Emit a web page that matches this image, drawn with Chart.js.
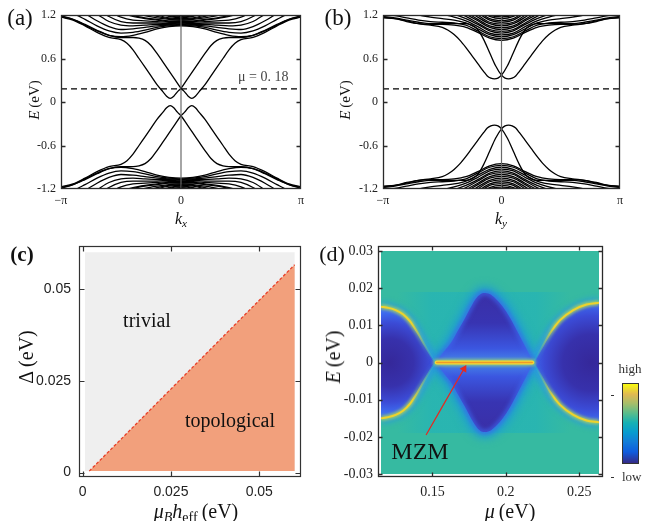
<!DOCTYPE html>
<html>
<head>
<meta charset="utf-8">
<script src="https://cdn.jsdelivr.net/npm/chart.js@4.4.1/dist/chart.umd.min.js"></script>
<style>
  body { margin: 0; width: 650px; height: 521px; background: #fff; position: relative; overflow: hidden; font-family: "Liberation Serif", serif; color: #111; }
  .box { position: absolute; }
  .lbl { position: absolute; white-space: nowrap; line-height: 1; }
  .c { transform: translate(-50%, -50%); }
  .v { transform: translate(-50%, -50%) rotate(-90deg); }
  sub { font-size: 70%; vertical-align: -0.3em; line-height: 0; }
  .cbar { position: absolute; left: 622px; top: 383px; width: 15px; height: 79px; border: 1px solid #333;
    background: linear-gradient(to top, #352a87 0%, #0f5cdd 14%, #127dd8 27%, #079ccf 39%, #15b1b4 51%, #59bd8c 63%, #a5be6b 75%, #e1b952 87%, #f9fb0e 100%); }
  .dash { position: absolute; width: 3px; height: 1px; background: #333; }
</style>
</head>
<body>
<div class="box" style="left:0;top:0;width:320px;height:230px"><canvas id="chartA"></canvas></div>
<div class="box" style="left:320px;top:0;width:330px;height:230px"><canvas id="chartB"></canvas></div>
<div class="box" style="left:0;top:230px;width:320px;height:291px"><canvas id="chartC"></canvas></div>
<div class="box" style="left:320px;top:230px;width:330px;height:291px"><canvas id="chartD"></canvas></div>

<div class="lbl c" style="left:20px;top:17px;font-size:23px">(a)</div>
<div class="lbl c" style="left:338px;top:17px;font-size:23px">(b)</div>
<div class="lbl c" style="left:22px;top:254px;font-size:21px;font-weight:bold">(c)</div>
<div class="lbl c" style="left:332px;top:254px;font-size:22px">(d)</div>

<div class="lbl v" style="left:34px;top:100px;font-size:15px"><i>E</i>&thinsp;(eV)</div>
<div class="lbl c" style="left:181px;top:219px;font-size:16px"><i>k</i><sub><i>x</i></sub></div>
<div class="lbl v" style="left:345px;top:100px;font-size:15px"><i>E</i>&thinsp;(eV)</div>
<div class="lbl c" style="left:501px;top:219px;font-size:16px"><i>k</i><sub><i>y</i></sub></div>
<div class="lbl" style="left:238px;top:70px;font-size:14px;color:#444">μ = 0. 18</div>

<div class="lbl v" style="left:26px;top:357px;font-size:20px">Δ&thinsp;(eV)</div>
<div class="lbl c" style="left:196px;top:511px;font-size:20px"><i>μ</i><sub><i>B</i></sub><i>h</i><sub>eff</sub>&thinsp;(eV)</div>
<div class="lbl c" style="left:147px;top:320px;font-size:20px">trivial</div>
<div class="lbl c" style="left:230px;top:420px;font-size:20px">topological</div>

<div class="lbl v" style="left:333px;top:357px;font-size:20px"><i>E</i>&thinsp;(eV)</div>
<div class="lbl c" style="left:510px;top:511px;font-size:20px"><i>μ</i>&thinsp;(eV)</div>
<div class="lbl c" style="left:420px;top:451px;font-size:24px">MZM</div>
<div class="cbar"></div>
<div class="lbl c" style="left:630px;top:368px;font-size:13px;color:#333">high</div>
<div class="lbl" style="left:622px;top:470px;font-size:13px;color:#333">low</div>
<div class="dash" style="left:611px;top:395px"></div>
<div class="dash" style="left:611px;top:477px"></div>

<script>
// ---------- (a), (b): ribbon spectra, k in units of pi, E in eV ----------
const kHalf = [0, 0.1, 0.2, 0.3, 0.4, 0.5, 0.6, 0.7, 0.8, 0.9, 1.0];

// upper bulk subbands of (a) on kHalf (mirrored to k<0, lower ones are -E)
const bulkA = [
  [1.05, 1.04, 1.01, 0.96, 0.92, 0.90, 0.92, 0.98, 1.06, 1.14, 1.19],
  [1.06, 1.05, 1.03, 0.99, 0.96, 0.95, 0.98, 1.05, 1.14, 1.22, 1.26],
  [1.07, 1.06, 1.05, 1.03, 1.01, 1.00, 1.04, 1.12, 1.22, 1.30],
  [1.08, 1.07, 1.07, 1.06, 1.05, 1.06, 1.11, 1.21, 1.31],
  [1.09, 1.08, 1.09, 1.09, 1.09, 1.11, 1.18, 1.29],
  [1.10, 1.10, 1.11, 1.12, 1.13, 1.17, 1.25],
  [1.11, 1.11, 1.13, 1.15, 1.18, 1.23],
  [1.12, 1.12, 1.14, 1.16, 1.19, 1.24],
  [1.13, 1.14, 1.16, 1.19, 1.24],
  [1.14, 1.15, 1.18, 1.23],
  [1.15, 1.16, 1.20, 1.26],
  [1.16, 1.18, 1.23],
  [1.17, 1.19, 1.26],
  [1.18, 1.21],
  [1.19, 1.23]
];

// upper bulk subbands of (b)
const bulkB = [
  [0.85, 0.88, 0.96, 1.03, 1.06, 1.07, 1.07, 1.08, 1.11, 1.15, 1.17],
  [0.875, 0.90, 0.98, 1.06, 1.09, 1.10, 1.11, 1.13, 1.16, 1.19, 1.20],
  [0.90, 0.93, 1.01, 1.09, 1.13, 1.15, 1.17, 1.20, 1.23, 1.26],
  [0.925, 0.95, 1.04, 1.12, 1.17, 1.21, 1.25],
  [0.95, 0.98, 1.07, 1.15, 1.21, 1.27],
  [0.975, 1.00, 1.09, 1.18, 1.25],
  [1.00, 1.03, 1.12, 1.21, 1.30],
  [1.025, 1.05, 1.14, 1.24],
  [1.05, 1.08, 1.17, 1.28],
  [1.075, 1.10, 1.20, 1.32],
  [1.10, 1.13, 1.23],
  [1.125, 1.15, 1.26],
  [1.15, 1.18, 1.29],
  [1.175, 1.20, 1.32]
];

// in-gap branch with its minimum left of k = 0 (partner is its mirror image)
const kEdge = [-1, -0.9, -0.8, -0.7, -0.6, -0.5, -0.45, -0.4, -0.35, -0.3, -0.25, -0.2, -0.15, -0.12,
  -0.09, -0.06, -0.03, 0, 0.05, 0.1, 0.15, 0.2, 0.25, 0.3, 0.35, 0.4, 0.5, 0.6, 0.7, 0.8, 0.9, 1];
const edgeA = [1.17, 1.13, 1.05, 0.96, 0.89, 0.86, 0.81, 0.72, 0.60, 0.48, 0.36, 0.24, 0.14, 0.08,
  0.05, 0.08, 0.14, 0.19, 0.31, 0.43, 0.55, 0.67, 0.78, 0.85, 0.88, 0.89, 0.89, 0.92, 0.99, 1.07, 1.14, 1.18];
const edgeB = [1.16, 1.15, 1.12, 1.08, 1.06, 1.03, 0.99, 0.93, 0.85, 0.75, 0.64, 0.53, 0.42, 0.36,
  0.33, 0.32, 0.33, 0.37, 0.50, 0.68, 0.86, 1.00, 1.06, 1.08, 1.08, 1.08, 1.08, 1.08, 1.10, 1.13, 1.16, 1.18];

const muFermi = 0.18;
const kCenter = 0;
const kTicks = [-1, 0, 1];
const kTickText = ['\u2212\u03c0', '0', '\u03c0'];
const eTicks = [-1.2, -0.6, 0, 0.6, 1.2];

// ---------- (c): phase diagram ----------
const phaseX = [0.0007, 0.06];
const phaseY = [0.0004, 0.06];
const boundX = [0.0019, 0.06];
const boundY = [0.0004, 0.0566];
const cTicks = [0, 0.025, 0.05];
const cTickText = ['0', '0.025', '0.05'];

// ---------- (d): spectral map ----------
const mapMu = [0.115, 0.2635];
const mapE = [-0.03, 0.03];
const plateauMu = [0.126, 0.244];
const plateauE = 0.019;
const lobeLMu = [0.115, 0.120, 0.125, 0.130, 0.135, 0.140, 0.145, 0.150, 0.152];
const lobeLE = [0.0150, 0.0147, 0.0141, 0.0130, 0.0110, 0.0080, 0.0045, 0.0012, 0];
const lobeRMu = [0.219, 0.221, 0.2255, 0.230, 0.237, 0.246, 0.255, 0.2635];
const lobeRE = [0, 0.0015, 0.0047, 0.0078, 0.0114, 0.0141, 0.0156, 0.0161];
const lensMu = [0.152, 0.158, 0.163, 0.168, 0.172, 0.177, 0.181, 0.185, 0.189, 0.193, 0.198, 0.203, 0.208, 0.213, 0.219];
const lensE = [0, 0.0030, 0.0055, 0.0090, 0.0118, 0.0155, 0.0178, 0.0187, 0.0184, 0.0172, 0.0150, 0.0120, 0.0083, 0.0045, 0];
const mzmMu = [0.153, 0.218];
const mzmE = [0, 0];
const arrowMu = [0.1457, 0.1716];
const arrowE = [-0.0195, -0.0017];
const dTicksX = [0.15, 0.2, 0.25];
const dTicksY = [-0.03, -0.02, -0.01, 0, 0.01, 0.02, 0.03];

// ---------- helpers ----------
const pts = (xs, ys) => xs.map((x, i) => ({ x: x, y: ys[i] }));
const neg = arr => arr.map(v => -v);

function fullBand(vals, sign) {
  const out = [];
  for (let i = vals.length - 1; i > 0; i--) out.push({ x: -kHalf[i], y: sign * vals[i] });
  for (let i = 0; i < vals.length; i++) out.push({ x: kHalf[i], y: sign * vals[i] });
  return out;
}

function edgeCurve(vals, flipK, flipE) {
  const out = kEdge.map((k, i) => ({ x: flipK ? -k : k, y: flipE ? -vals[i] : vals[i] }));
  return flipK ? out.reverse() : out;
}

const framePlugin = {
  id: 'frame',
  afterDatasetsDraw(chart, args, opts) {
    const { ctx, chartArea: a, scales } = chart;
    const p = opts.pad || [0, 0, 0, 0];
    const L = Math.round(a.left - p[0]) + 0.5, T = Math.round(a.top - p[1]) + 0.5;
    const R = Math.round(a.right + p[2]) - 0.5, B = Math.round(a.bottom + p[3]) - 0.5;
    const len = opts.tick || 4;
    ctx.save();
    ctx.strokeStyle = opts.color || '#262626';
    ctx.lineWidth = opts.width || 1;
    ctx.strokeRect(L, T, R - L, B - T);
    ctx.beginPath();
    scales.x.ticks.forEach(t => {
      const x = Math.round(scales.x.getPixelForValue(t.value)) + 0.5;
      if (x - L < 2 || R - x < 2) return;
      ctx.moveTo(x, B); ctx.lineTo(x, B - len);
      ctx.moveTo(x, T); ctx.lineTo(x, T + len);
    });
    scales.y.ticks.forEach(t => {
      const y = Math.round(scales.y.getPixelForValue(t.value)) + 0.5;
      if (y - T < 2 || B - y < 2) return;
      ctx.moveTo(L, y); ctx.lineTo(L + len, y);
      ctx.moveTo(R, y); ctx.lineTo(R - len, y);
    });
    ctx.stroke();
    ctx.restore();
  }
};

const blurPlugin = {
  id: 'blur',
  beforeDatasetDraw(chart, args) {
    const b = chart.data.datasets[args.index].blur;
    if (b) chart.ctx.filter = 'blur(' + b + 'px)';
  },
  afterDatasetDraw(chart) { chart.ctx.filter = 'none'; }
};

function axis(o) {
  return {
    type: 'linear', min: o.min, max: o.max,
    afterBuildTicks: s => { s.ticks = o.ticks.map(value => ({ value })); },
    afterFit: s => { if (o.w) s.width = o.w; if (o.h) s.height = o.h; },
    ticks: {
      callback: v => o.text ? o.text[o.ticks.indexOf(v)] : String(v),
      font: o.font, color: '#222', padding: o.pad, maxRotation: 0, autoSkip: false
    },
    grid: { display: false, drawTicks: false },
    border: { display: false }
  };
}

function baseOptions(padding, scales, frame) {
  return {
    responsive: true, maintainAspectRatio: false, animation: false, events: [],
    layout: { padding },
    scales,
    plugins: { legend: { display: false }, tooltip: { enabled: false }, frame }
  };
}

const serif12 = { family: 'Liberation Serif', size: 12 };
const serif14 = { family: 'Liberation Serif', size: 14 };
const sans14 = { family: 'Liberation Sans', size: 14 };

// ---------- (a), (b) ----------
function bandChart(id, bulk, edge, yw, rightPad) {
  const line = (data, extra) => Object.assign({
    data, borderColor: '#000', borderWidth: 1.3, pointRadius: 0, fill: false, cubicInterpolationMode: 'monotone'
  }, extra);
  const ds = [];
  ds.push(line([{ x: -1, y: muFermi }, { x: 1, y: muFermi }], { borderDash: [6, 4], borderWidth: 1.2 }));
  ds.push(line([{ x: kCenter, y: eTicks[0] }, { x: kCenter, y: eTicks[eTicks.length - 1] }], { borderColor: '#6a6a6a', borderWidth: 1.2 }));
  [[false, false], [true, false], [false, true], [true, true]].forEach(f => ds.push(line(edgeCurve(edge, f[0], f[1]))));
  bulk.forEach(v => { ds.push(line(fullBand(v, 1))); ds.push(line(fullBand(v, -1))); });

  new Chart(document.getElementById(id), {
    type: 'line',
    data: { datasets: ds },
    options: baseOptions({ left: 0, right: rightPad, top: 15, bottom: 0 }, {
      x: axis({ min: -1, max: 1, ticks: kTicks, text: kTickText, font: serif12, pad: 5, h: 41 }),
      y: axis({ min: -1.2, max: 1.2, ticks: eTicks, font: serif12, pad: 5, w: yw })
    }, { pad: [0, 0, 0, 0], width: 1.3, color: '#2a2a2a', tick: 4 }),
    plugins: [framePlugin]
  });
}

bandChart('chartA', bulkA, edgeA, 61, 19);
bandChart('chartB', bulkB, edgeB, 63, 30);

// ---------- (c) ----------
(function () {
  const clear = 'rgba(0,0,0,0)';
  const ds = [
    { data: pts(boundX, boundY), borderColor: '#e8402a', borderWidth: 1.3, borderDash: [3, 2], pointRadius: 0, fill: false },
    { data: pts([boundX[0], boundX[1], boundX[1]], [boundY[0], boundY[1], phaseY[0]]), borderColor: clear, pointRadius: 0, fill: 'shape', backgroundColor: '#f2a07c' },
    { data: pts([phaseX[0], phaseX[0], phaseX[1], phaseX[1]], [phaseY[0], phaseY[1], phaseY[1], phaseY[0]]), borderColor: clear, pointRadius: 0, fill: 'shape', backgroundColor: '#efefef' }
  ];
  new Chart(document.getElementById('chartC'), {
    type: 'line',
    data: { datasets: ds },
    options: baseOptions({ left: 0, right: 19, top: 15, bottom: 0 }, {
      x: axis({ min: -0.001, max: 0.0618, ticks: cTicks, text: cTickText, font: sans14, pad: 7, h: 44 }),
      y: axis({ min: -0.0012, max: 0.0616, ticks: cTicks, text: cTickText, font: sans14, pad: 8, w: 79 })
    }, { pad: [0, 0, 0, 0], width: 1.2, color: '#333', tick: 5 }),
    plugins: [framePlugin]
  });
})();

// ---------- (d) ----------
(function () {
  const list = [];
  const clear = 'rgba(0,0,0,0)';
  const add = d => {
    list.push(Object.assign({ pointRadius: 0, fill: false, borderColor: clear, borderWidth: 1, cubicInterpolationMode: 'monotone' }, d));
  };
  const region = (xs, up, low, bg) => {
    add({ data: pts(xs, up), fill: list.length + 1, backgroundColor: bg });
    add({ data: pts(xs, low) });
  };

  const radial = (mu0, muEdge, stops, fb) => c => {
    const ch = c.chart;
    if (!ch.chartArea) return fb;
    const x = ch.scales.x, y = ch.scales.y;
    const cx = x.getPixelForValue(mu0), cy = y.getPixelForValue(0);
    const r = Math.abs(x.getPixelForValue(muEdge) - cx);
    const g = ch.ctx.createRadialGradient(cx, cy, 0, cx, cy, r);
    stops.forEach(s => g.addColorStop(s[0], s[1]));
    return g;
  };
  const vGrad = (e0, e1, stops, fb) => c => {
    const ch = c.chart;
    if (!ch.chartArea) return fb;
    const y = ch.scales.y;
    const g = ch.ctx.createLinearGradient(0, y.getPixelForValue(e0), 0, y.getPixelForValue(e1));
    stops.forEach(s => g.addColorStop(s[0], s[1]));
    return g;
  };
  const hStops = (m0, m1, stops, fb) => c => {
    const ch = c.chart;
    if (!ch.chartArea) return fb;
    const x = ch.scales.x;
    const g = ch.ctx.createLinearGradient(x.getPixelForValue(m0), 0, x.getPixelForValue(m1), 0);
    stops.forEach(s => g.addColorStop(s[0], s[1]));
    return g;
  };
  const hGrad = (m0, m1, c0, c1) => hStops(m0, m1, [[0, c0], [1, c1]], c0);

  const lobeStops = [[0, '#35289a'], [0.45, '#3731ac'], [0.75, '#3b4bd6'], [0.95, '#3d6cf0'], [1, '#3d72f0']];
  const lensStops = [[0, '#3a2fa6'], [0.22, '#3834b2'], [0.4, '#3b56e0'], [0.5, '#4688e8'], [0.6, '#3b56e0'], [0.78, '#3834b2'], [1, '#3a2fa6']];
  const plateauStops = [[0, 'rgba(22,174,200,0)'], [0.2, 'rgba(22,174,200,0.4)'], [0.8, 'rgba(22,174,200,0.4)'], [1, 'rgba(22,174,200,0)']];

  // back to front
  region(mapMu, [mapE[1], mapE[1]], [mapE[0], mapE[0]], '#36baa1');
  region(plateauMu, [plateauE, plateauE], [-plateauE, -plateauE], hStops(plateauMu[0], plateauMu[1], plateauStops, 'rgba(22,174,200,0.35)'));

  add({ data: pts(lensMu, lensE), borderColor: '#1e9ad8', borderWidth: 12, blur: 5 });
  add({ data: pts(lensMu, neg(lensE)), borderColor: '#1e9ad8', borderWidth: 12, blur: 5 });
  [[lobeLMu, lobeLE], [lobeRMu, lobeRE]].forEach(l => {
    add({ data: pts(l[0], l[1]), borderColor: '#2a9ade', borderWidth: 9, blur: 3 });
    add({ data: pts(l[0], neg(l[1])), borderColor: '#2a9ade', borderWidth: 9, blur: 3 });
  });

  region(lobeLMu, lobeLE, neg(lobeLE), radial(0.121, 0.157, lobeStops, '#3731ac'));
  region(lobeRMu, lobeRE, neg(lobeRE), radial(0.258, 0.2155, lobeStops, '#3731ac'));
  region(lensMu, lensE, neg(lensE), vGrad(0.019, -0.019, lensStops, '#3834b2'));

  add({ data: pts(lensMu, lensE), borderColor: 'rgba(60,100,235,0.85)', borderWidth: 4, blur: 2 });
  add({ data: pts(lensMu, neg(lensE)), borderColor: 'rgba(60,100,235,0.85)', borderWidth: 4, blur: 2 });

  const edges = [[lobeLMu, lobeLE, 0.136, 0.150], [lobeRMu, lobeRE, 0.233, 0.221]];
  edges.forEach(l => {
    [l[1], neg(l[1])].forEach(e => {
      add({ data: pts(l[0], e), borderColor: hGrad(l[2], l[3], 'rgba(165,208,95,0.9)', 'rgba(40,170,210,0)'), borderWidth: 5, blur: 1.5 });
      add({ data: pts(l[0], e), borderColor: hGrad(l[2], l[3], '#eed22c', 'rgba(40,170,215,0.5)'), borderWidth: 2 });
    });
  });

  add({ data: pts(mzmMu, mzmE), borderColor: 'rgba(150,210,110,0.8)', borderWidth: 7, blur: 1.5, borderCapStyle: 'round' });
  add({ data: pts(mzmMu, mzmE), borderColor: '#f5d935', borderWidth: 4, borderCapStyle: 'round' });
  add({ data: pts(mzmMu, mzmE), borderColor: '#f09a28', borderWidth: 1.5, borderCapStyle: 'round' });

  add({ data: pts(arrowMu, arrowE), borderColor: '#e8281e', borderWidth: 1.2, pointRadius: [0, 4.5],
    pointStyle: 'triangle', pointRotation: 30, pointBackgroundColor: '#e8281e', pointBorderWidth: 0 });

  list.forEach((d, i) => { d.order = list.length - i; });

  new Chart(document.getElementById('chartD'), {
    type: 'line',
    data: { datasets: list },
    options: baseOptions({ left: 0, right: 51, top: 21, bottom: 0 }, {
      x: axis({ min: mapMu[0], max: mapMu[1], ticks: dTicksX, font: serif14, pad: 10, h: 47 }),
      y: axis({ min: mapE[0], max: mapE[1], ticks: dTicksY, font: serif14, pad: 8, w: 61 })
    }, { pad: [3, 5, 4, 3], width: 1.3, color: '#2a2a2a', tick: 4 }),
    plugins: [blurPlugin, framePlugin]
  });
})();
</script>
</body>
</html>
